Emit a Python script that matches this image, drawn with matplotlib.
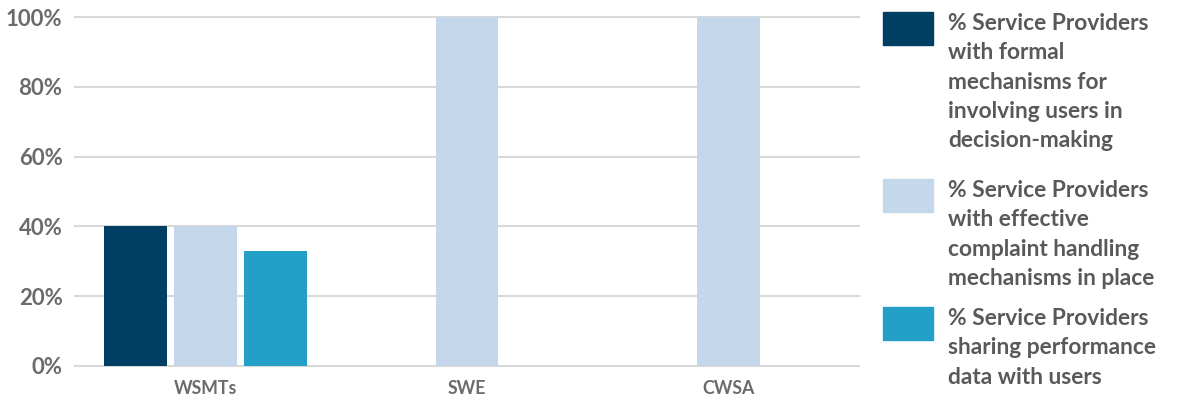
import matplotlib
matplotlib.use("Agg")
import matplotlib.pyplot as plt
from matplotlib.patches import Rectangle

categories = ["WSMTs", "SWE", "CWSA"]
series_labels = [
    "% Service Providers\nwith formal\nmechanisms for\ninvolving users in\ndecision-making",
    "% Service Providers\nwith effective\ncomplaint handling\nmechanisms in place",
    "% Service Providers\nsharing performance\ndata with users",
]
# None = no value reported for that category
formal_mechanisms = [40, None, None]
complaint_handling = [40, 100, 100]
sharing_performance = [33, None, None]
series_values = [formal_mechanisms, complaint_handling, sharing_performance]
series_colors = ["#003f63", "#c5d7ea", "#239fc8"]
y_ticks = [0, 20, 40, 60, 80, 100]
y_tick_labels = ["0%", "20%", "40%", "60%", "80%", "100%"]

plt.rcParams["font.family"] = ["Lato", "DejaVu Sans"]

W, H = 1181, 403
fig = plt.figure(figsize=(W / 100, H / 100), dpi=100)
ax = fig.add_axes([75 / W, 37 / H, (859 - 75) / W, (366 - 17) / H])

bar_w = 0.241
gap = 0.027
for ci, cat in enumerate(categories):
    present = [(si, vals[ci]) for si, vals in enumerate(series_values) if vals[ci] is not None]
    n = len(present)
    total = n * bar_w + (n - 1) * gap
    start = ci - total / 2 + bar_w / 2
    for k, (si, v) in enumerate(present):
        ax.bar(start + k * (bar_w + gap), v, width=bar_w, color=series_colors[si],
               zorder=3, linewidth=0)

ax.set_xlim(-0.5, len(categories) - 0.5)
ax.set_ylim(0, 100)
ax.set_yticks(y_ticks)
ax.set_yticklabels(y_tick_labels)
ax.set_xticks(range(len(categories)))
ax.set_xticklabels(categories)
ax.grid(axis="y", color="#d9d9d9", linewidth=1.5, zorder=0)
ax.set_axisbelow(True)
for s in ax.spines.values():
    s.set_visible(False)
ax.tick_params(axis="both", length=0)
ax.tick_params(axis="y", labelsize=16, labelcolor="#6b6b6b", pad=9)
ax.tick_params(axis="x", labelsize=12.8, labelcolor="#6b6b6b", pad=10)
for t in ax.get_yticklabels() + ax.get_xticklabels():
    t.set_fontweight("bold")
for gl in ax.get_ygridlines():
    gl.set_clip_on(False)

# Legend drawn as swatches with wrapped labels beside them
legend_tops = [12, 179, 307]
for si, top in enumerate(legend_tops):
    fig.patches.append(Rectangle((883 / W, 1 - (top + 33) / H), 50 / W, 33 / H,
                                 transform=fig.transFigure, color=series_colors[si]))
    fig.text(948 / W, 1 - (top + 1) / H, series_labels[si], ha="left", va="top",
             fontsize=16.4, fontweight="bold", color="#595959", linespacing=1.49)

fig.savefig("out.png", dpi=100, facecolor="white")
